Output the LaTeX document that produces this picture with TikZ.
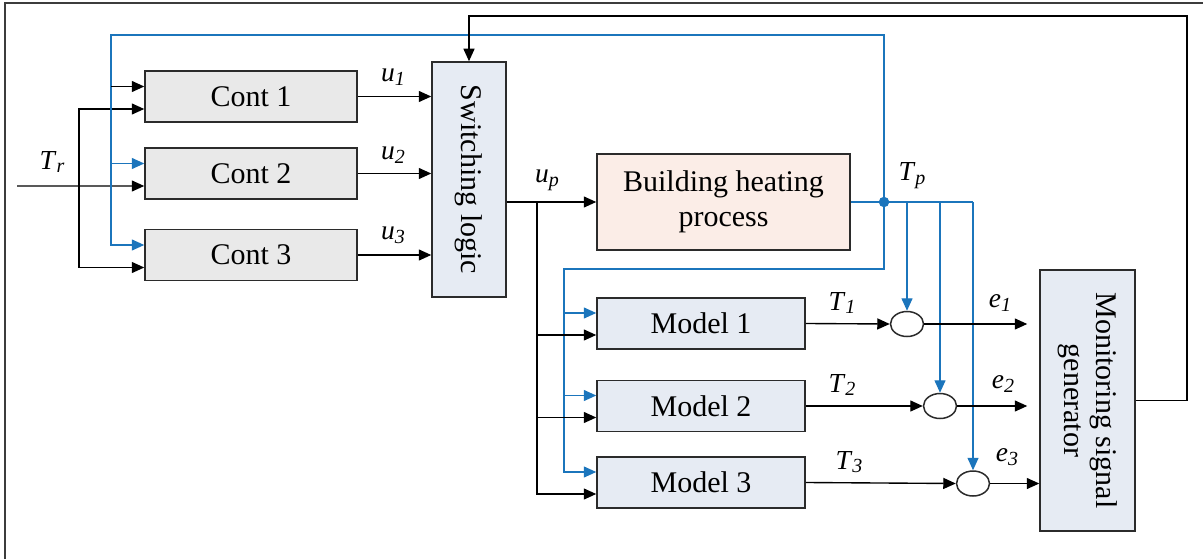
\documentclass[tikz,border=0pt]{standalone}
\usepackage{fontspec}
\setmainfont{Liberation Serif}
\usetikzlibrary{arrows.meta,shapes.geometric,calc}
\definecolor{ink}    {HTML}{2B2B2B}
\definecolor{framec} {HTML}{3C3C3C}
\definecolor{sig}    {HTML}{1B75BC}
\definecolor{contbg} {HTML}{E9E9E9}
\definecolor{modbg}  {HTML}{E6EBF3}
\definecolor{procbg} {HTML}{FBEDE7}
\newcommand\sgl[2]{\textit{#1}\raisebox{-0.3ex}{\footnotesize\textit{#2}}}
\tikzset{
  box/.style   ={draw=ink, line width=0.6pt, inner sep=0pt, align=center,
                 font=\fontsize{12}{14}\selectfont},
  cbox/.style  ={box, fill=contbg, minimum width=84.8pt, minimum height=20.4pt},
  mbox/.style  ={box, fill=modbg, minimum width=83.2pt, minimum height=20.4pt},
  sbox/.style  ={box, fill=modbg},
  pbox/.style  ={box, fill=procbg, minimum width=101.2pt, minimum height=38.4pt},
  sum/.style   ={ellipse, draw=ink, line width=0.6pt, fill=white, inner sep=0pt,
                 minimum width=13.2pt, minimum height=10pt},
  arr/.style   ={-{Triangle[length=5pt,width=4.4pt]}, line width=0.55pt, draw=black},
  barr/.style  ={arr, draw=sig},
  bline/.style ={line width=0.55pt, draw=sig},
  lbl/.style   ={font=\fontsize{11}{12}\selectfont, inner sep=0pt},
  jdot/.style  ={circle, fill=sig, inner sep=0pt, minimum size=4.2pt},
}

\begin{document}
\begin{tikzpicture}[x=0.4pt,y=-0.4pt]
  \useasboundingbox (0,0) rectangle (1203,559);
  \draw[framec, line width=0.6pt] (5,559) -- (5,3) -- (1203,3);

  % blocks
  \node[cbox] (c1) at (251,96.5) {Cont 1};
  \node[cbox] (c2) at (251,173.5) {Cont 2};
  \node[cbox] (c3) at (251,255) {Cont 3};
  \node[sbox,minimum width=29.6pt,minimum height=94pt] (sw) at (469,179.5)
    {\rotatebox{-90}{Switching logic}};
  \node[pbox] (bh) at (723.5,202) {Building heating\\process};
  \node[mbox] (m1) at (701,323.5) {Model 1};
  \node[mbox] (m2) at (701,406) {Model 2};
  \node[mbox] (m3) at (701,482.5) {Model 3};
  \node[sum] (o1) at (907,324) {};
  \node[sum] (o2) at (940,406) {};
  \node[sum] (o3) at (973,483.5) {};
  \node[sbox,minimum width=38pt,minimum height=104.4pt] (mon) at (1087.5,400.5)
    {\rotatebox{-90}{\begin{tabular}{@{}c@{}}Monitoring signal\\[-1pt]generator\end{tabular}}};
  \node[jdot] (tpj) at (884,202) {};

  % helper points
  \coordinate (tr)  at (17,186);
  \coordinate (trj) at (79,186);
  \coordinate (bt)  at (111,35);
  \coordinate (bl)  at (564,269);
  \coordinate (upj) at (537,202);
  \coordinate (tpe) at (973,202);
  \coordinate (fb)  at (1187,16);
  \foreach \i in {1,2,3}{
    \coordinate (c\i u) at ([yshift=4pt]c\i.west);
    \coordinate (c\i d) at ([yshift=-5pt]c\i.west);
    \coordinate (m\i u) at ([yshift=4.2pt]m\i.west);
    \coordinate (m\i d) at ([yshift=-4.6pt]m\i.west);
  }

  % reference input
  \draw[arr] (tr) -- (c2d);
  \draw[arr] (trj) |- (c1d);
  \draw[arr] (trj) |- (c3d);
  \node[lbl] (trl) at (52,162) {\sgl{T}{r}};

  % controller outputs
  \foreach \i/\yy in {1/77,2/155,3/235}{
    \draw[arr] (c\i.east) -- (c\i.east -| sw.west);
    \node[lbl] (ul\i) at (393,\yy) {\sgl{u}{\i}};
  }

  % blue feedback of T_p
  \draw[barr] (tpj.center) |- (bt) |- (c3u);
  \draw[barr] (c2u -| bt) -- (c2u);
  \draw[arr] (c1u -| bt) -- (c1u);
  \draw[barr] (tpj.center) |- (bl) |- (m3u);
  \draw[barr] (m1u -| bl) -- (m1u);
  \draw[barr] (m2u -| bl) -- (m2u);

  % plant
  \draw[arr] (bh.west -| sw.east) -- (bh.west);
  \node[lbl] (upl) at (547,180) {\sgl{u}{p}};
  \draw[arr] (upj) |- (m3d);
  \draw[arr] (m1d -| upj) -- (m1d);
  \draw[arr] (m2d -| upj) -- (m2d);
  \draw[bline] (bh.east) -- (tpe);
  \node[lbl] (tpl) at (912,176) {\sgl{T}{p}};
  \foreach \i in {1,2,3}
    \draw[barr] (o\i |- tpe) -- (o\i.north);

  % model errors
  \draw[arr] (m1.east) -- (o1.west);
  \draw[arr] (m2.east) -- (o2.west);
  \draw[arr] (m3.east) -- (o3.west);
  \node[lbl] (t1l) at (842,303) {\sgl{T}{1}};
  \node[lbl] (t2l) at (842,385) {\sgl{T}{2}};
  \node[lbl] (t3l) at (849,462) {\sgl{T}{3}};
  \draw[arr,shorten >=4.8pt] (o1.east) -- (o1.east -| mon.west);
  \draw[arr,shorten >=4.8pt] (o2.east) -- (o2.east -| mon.west);
  \draw[arr] (o3.east) -- (o3.east -| mon.west);
  \node[lbl] (e1l) at (1000,303) {\sgl{e}{1}};
  \node[lbl] (e2l) at (1003,384) {\sgl{e}{2}};
  \node[lbl] (e3l) at (1007,457) {\sgl{e}{3}};

  % switching signal
  \draw[arr] (mon.east) -| (fb) -| (sw.north);
\end{tikzpicture}
\end{document}
